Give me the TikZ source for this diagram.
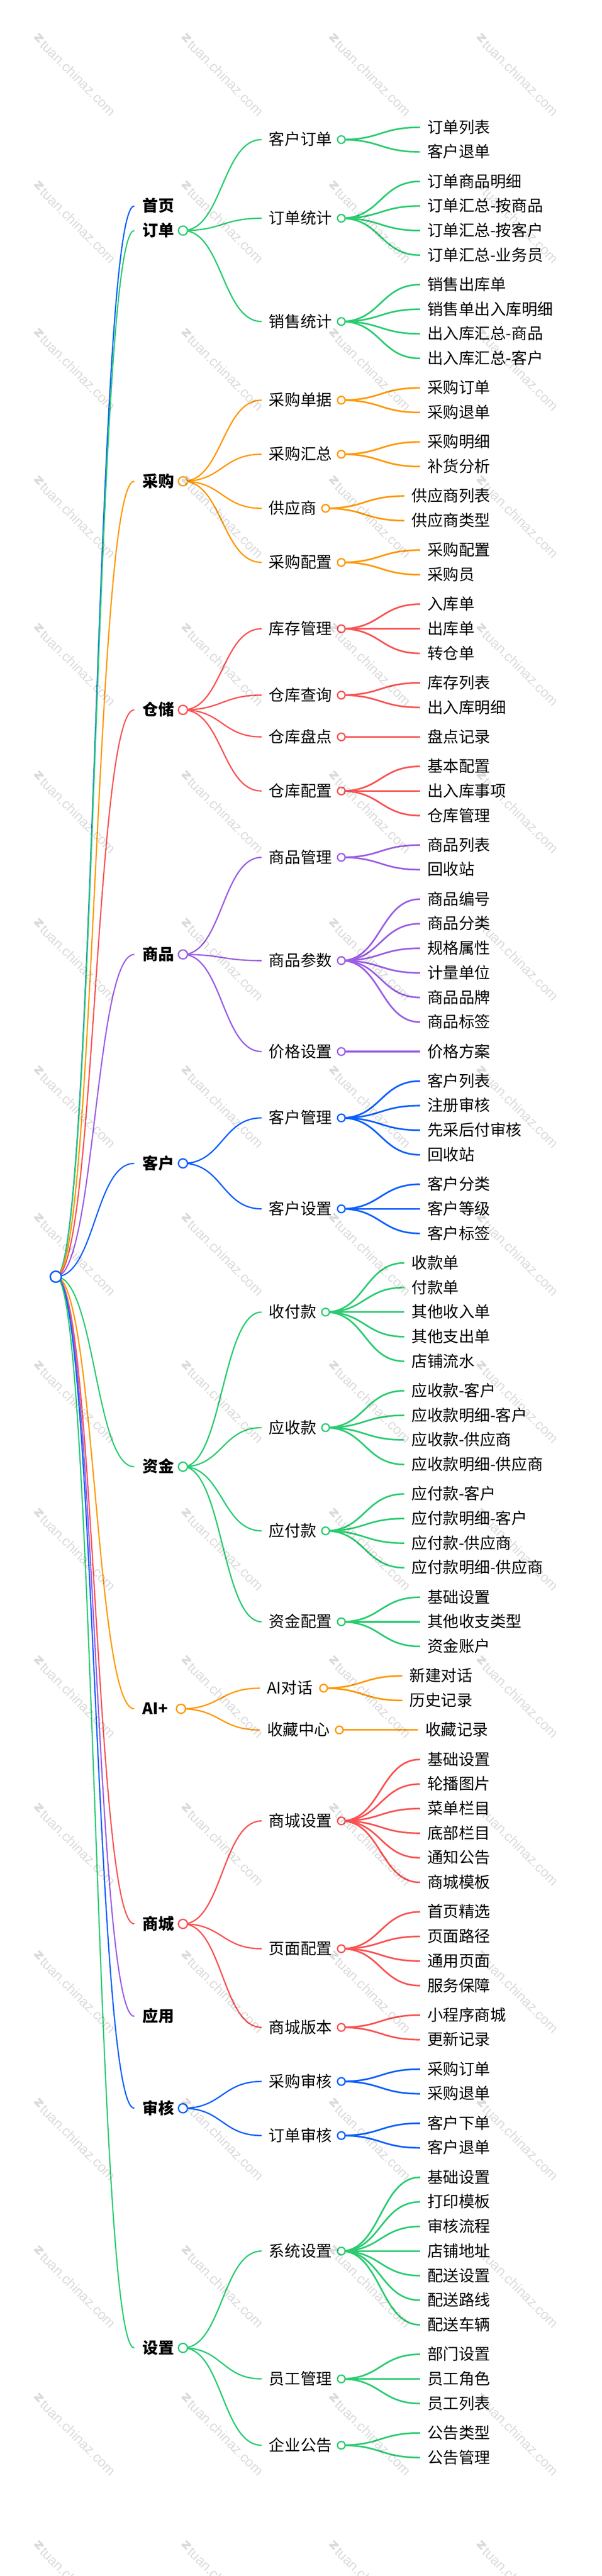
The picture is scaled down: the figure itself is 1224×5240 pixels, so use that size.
\documentclass[tikz,border=0pt]{standalone}
\usepackage{fontspec}
\setmainfont{Noto Sans CJK SC}
\newfontfamily\wmfont{Liberation Sans}
\usetikzlibrary{calc}
\pgfdeclarelayer{paper}
\pgfdeclarelayer{edges}
\pgfdeclarelayer{wm}
\pgfsetlayers{paper,edges,main,wm}
\definecolor{cblue}{HTML}{0A5FFF}
\definecolor{cgreen}{HTML}{29CC70}
\definecolor{corange}{HTML}{FF9800}
\definecolor{cred}{HTML}{FA5252}
\definecolor{cpurple}{HTML}{9B5DE5}
\tikzset{
  x=1pt,y=-1pt,
  mapline/.style={line width=#1,line cap=butt},
  dotbase/.style={circle,fill=white,inner sep=0pt,outer sep=0pt},
  rootdot/.style={dotbase,draw=cblue,line width=3pt,minimum size=22.5pt},
  onedot/.style={dotbase,line width=2.7pt,minimum size=18.5pt},
  twodot/.style={dotbase,line width=2.7pt,minimum size=15.5pt},
  nametext/.style={anchor=base west,inner sep=0pt,outer sep=0pt,text=black,
    font=\fontsize{32}{32}\selectfont},
  onetext/.style={nametext,font=\fontsize{32}{32}\selectfont\bfseries},
  wmtext/.style={text=black,opacity=.14,rotate=-45,anchor=center,inner sep=0pt,
    font=\fontsize{28}{28}\selectfont\wmfont},
  wmlogo/.style={draw=black,draw opacity=.14,line width=4pt,miter limit=2},
}
\newcommand{\mapedge}[4]{%
  \begin{pgfonlayer}{edges}%
  \draw[mapline=#3,draw=#4] let \p1=(#1),\p2=(#2),\n1={(\x1+\x2)/2} in
    (\p1) .. controls (\n1,\y1) and (\n1,\y2) .. (\p2);
  \end{pgfonlayer}}
\newcounter{leafno}
% level one: [text width]{key}{y}{text}{colour}
\newcommand{\Lone}[5][64]{%
  \def\curcol{#5}\def\oneKey{#2}%
  \pgfmathsetmacro\oneX{273+35+#1}%
  \coordinate (#2-in) at (273,#3);
  \node[onetext] (#2) at (290,#3+11.5) {#4};
  \node[onedot,draw=#5] (#2-dot) at (\oneX,#3) {};
  \mapedge{root}{#2-in}{2.5pt}{#5}%
}
% a level-one entry with nothing after it has no ring
\newcommand{\Lbare}[4]{%
  \coordinate (#1-in) at (273,#2);
  \node[onetext] (#1) at (290,#2+11.5) {#3};
  \mapedge{root}{#1-in}{2.5pt}{#4}%
}
% level two: [text width]{key}{y}{text}
\newcommand{\Ltwo}[4][128]{%
  \def\twoKey{#2}%
  \pgfmathsetmacro\twoIn{\oneX+160}%
  \pgfmathsetmacro\twoX{\twoIn+34+#1}%
  \pgfmathsetmacro\twoT{\twoIn+15}%
  \coordinate (#2-in) at (\twoIn,#3);
  \node[nametext] (#2) at (\twoT,#3+11.5) {#4};
  \node[twodot,draw=\curcol] (#2-dot) at (\twoX,#3) {};
  \mapedge{\oneKey-dot}{#2-in}{2.7pt}{\curcol}%
}
% leaf: {y}{text}
\newcommand{\Lleaf}[2]{%
  \stepcounter{leafno}%
  \pgfmathsetmacro\leafIn{\twoX+160}%
  \pgfmathsetmacro\leafT{\leafIn+15}%
  \coordinate (leaf\theleafno-in) at (\leafIn,#1);
  \node[nametext] (leaf\theleafno) at (\leafT,#1+11.5) {#2};
  \mapedge{\twoKey-dot}{leaf\theleafno-in}{3.3pt}{\curcol}%
}
\begin{document}
\begin{tikzpicture}
\useasboundingbox (0,0) rectangle (1224,5240);
\begin{pgfonlayer}{paper}
\fill[white] (0,0) rectangle (1224,5240);
\end{pgfonlayer}
\node[rootdot] (root) at (113.5,2597) {};

\Lbare{home}{419}{首页}{cblue}

\Lone{order}{469}{订单}{cgreen}
\Ltwo{co}{284}{客户订单}
\Lleaf{259}{订单列表}\Lleaf{309}{客户退单}
\Ltwo{ostat}{444}{订单统计}
\Lleaf{369}{订单商品明细}\Lleaf{419}{订单汇总-按商品}\Lleaf{469}{订单汇总-按客户}\Lleaf{519}{订单汇总-业务员}
\Ltwo{sstat}{654}{销售统计}
\Lleaf{579}{销售出库单}\Lleaf{629}{销售单出入库明细}\Lleaf{679}{出入库汇总-商品}\Lleaf{729}{出入库汇总-客户}

\Lone{buy}{979}{采购}{corange}
\Ltwo{bdoc}{814}{采购单据}
\Lleaf{789}{采购订单}\Lleaf{839}{采购退单}
\Ltwo{bsum}{924}{采购汇总}
\Lleaf{899}{采购明细}\Lleaf{949}{补货分析}
\Ltwo[96]{supp}{1034}{供应商}
\Lleaf{1009}{供应商列表}\Lleaf{1059}{供应商类型}
\Ltwo{bcfg}{1144}{采购配置}
\Lleaf{1119}{采购配置}\Lleaf{1169}{采购员}

\Lone{store}{1444}{仓储}{cred}
\Ltwo{sman}{1279}{库存管理}
\Lleaf{1229}{入库单}\Lleaf{1279}{出库单}\Lleaf{1329}{转仓单}
\Ltwo{squery}{1414}{仓库查询}
\Lleaf{1389}{库存列表}\Lleaf{1439}{出入库明细}
\Ltwo{scheck}{1499}{仓库盘点}
\Lleaf{1499}{盘点记录}
\Ltwo{scfg}{1609}{仓库配置}
\Lleaf{1559}{基本配置}\Lleaf{1609}{出入库事项}\Lleaf{1659}{仓库管理}

\Lone{goods}{1941.5}{商品}{cpurple}
\Ltwo{gman}{1744}{商品管理}
\Lleaf{1719}{商品列表}\Lleaf{1769}{回收站}
\Ltwo{gpar}{1954}{商品参数}
\Lleaf{1829}{商品编号}\Lleaf{1879}{商品分类}\Lleaf{1929}{规格属性}\Lleaf{1979}{计量单位}\Lleaf{2029}{商品品牌}\Lleaf{2079}{商品标签}
\Ltwo{gprice}{2139}{价格设置}
\Lleaf{2139}{价格方案}

\Lone{cust}{2366.5}{客户}{cblue}
\Ltwo{cman}{2274}{客户管理}
\Lleaf{2199}{客户列表}\Lleaf{2249}{注册审核}\Lleaf{2299}{先采后付审核}\Lleaf{2349}{回收站}
\Ltwo{ccfg}{2459}{客户设置}
\Lleaf{2409}{客户分类}\Lleaf{2459}{客户等级}\Lleaf{2509}{客户标签}

\Lone{fund}{2983.5}{资金}{cgreen}
\Ltwo[96]{fpay}{2669}{收付款}
\Lleaf{2569}{收款单}\Lleaf{2619}{付款单}\Lleaf{2669}{其他收入单}\Lleaf{2719}{其他支出单}\Lleaf{2769}{店铺流水}
\Ltwo[96]{frec}{2904}{应收款}
\Lleaf{2829}{应收款-客户}\Lleaf{2879}{应收款明细-客户}\Lleaf{2929}{应收款-供应商}\Lleaf{2979}{应收款明细-供应商}
\Ltwo[96]{fdue}{3114}{应付款}
\Lleaf{3039}{应付款-客户}\Lleaf{3089}{应付款明细-客户}\Lleaf{3139}{应付款-供应商}\Lleaf{3189}{应付款明细-供应商}
\Ltwo{fcfg}{3299}{资金配置}
\Lleaf{3249}{基础设置}\Lleaf{3299}{其他收支类型}\Lleaf{3349}{资金账户}

\Lone[60]{ai}{3476}{AI+}{corange}
\Ltwo[96]{achat}{3434}{AI对话}
\Lleaf{3409}{新建对话}\Lleaf{3459}{历史记录}
\Ltwo{afav}{3519}{收藏中心}
\Lleaf{3519}{收藏记录}

\Lone{shop}{3913.5}{商城}{cred}
\Ltwo{mset}{3704}{商城设置}
\Lleaf{3579}{基础设置}\Lleaf{3629}{轮播图片}\Lleaf{3679}{菜单栏目}\Lleaf{3729}{底部栏目}\Lleaf{3779}{通知公告}\Lleaf{3829}{商城模板}
\Ltwo{mpage}{3964}{页面配置}
\Lleaf{3889}{首页精选}\Lleaf{3939}{页面路径}\Lleaf{3989}{通用页面}\Lleaf{4039}{服务保障}
\Ltwo{mver}{4124}{商城版本}
\Lleaf{4099}{小程序商城}\Lleaf{4149}{更新记录}

\Lbare{app}{4101.5}{应用}{cpurple}

\Lone{audit}{4288.5}{审核}{cblue}
\Ltwo{abuy}{4234}{采购审核}
\Lleaf{4209}{采购订单}\Lleaf{4259}{采购退单}
\Ltwo{aord}{4344}{订单审核}
\Lleaf{4319}{客户下单}\Lleaf{4369}{客户退单}

\Lone{conf}{4776}{设置}{cgreen}
\Ltwo{csys}{4579}{系统设置}
\Lleaf{4429}{基础设置}\Lleaf{4479}{打印模板}\Lleaf{4529}{审核流程}\Lleaf{4579}{店铺地址}\Lleaf{4629}{配送设置}\Lleaf{4679}{配送路线}\Lleaf{4729}{配送车辆}
\Ltwo{cstaff}{4839}{员工管理}
\Lleaf{4789}{部门设置}\Lleaf{4839}{员工角色}\Lleaf{4889}{员工列表}
\Ltwo{cnote}{4974}{企业公告}
\Lleaf{4949}{公告类型}\Lleaf{4999}{公告管理}

\begin{pgfonlayer}{wm}
\foreach \i in {0,...,17}{\foreach \j in {0,...,3}{
  \node[wmtext] (wm-\i-\j) at (159+300*\j,158.5+300*\i) {tuan.chinaz.com};
  \draw[wmlogo,shift={(79+300*\j,77+300*\i)},rotate=-45] (-7,-5.5) -- (7,-5.5) -- (-7,5.5) -- (7,5.5);
}}
\end{pgfonlayer}
\end{tikzpicture}
\end{document}
